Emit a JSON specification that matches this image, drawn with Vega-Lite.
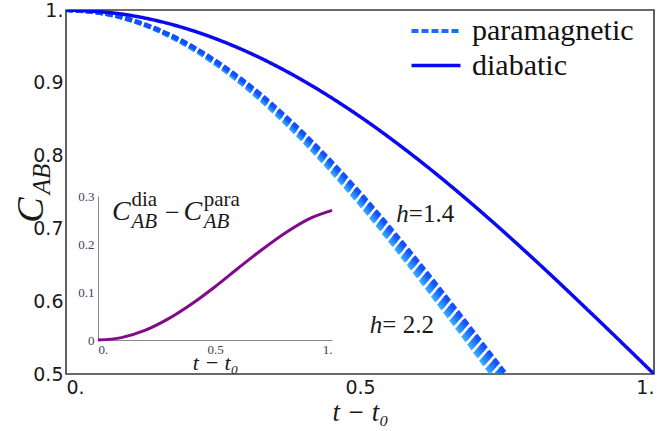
{
  "$schema": "https://vega.github.io/schema/vega-lite/v6.json",
  "width": 588,
  "height": 364,
  "autosize": {"type": "none"},
  "padding": {"left": 66, "top": 10, "right": 11, "bottom": 57},
  "background": "white",
  "config": {
    "view": {"stroke": "#3a3a3a", "strokeWidth": 1.6},
    "axis": {"grid": false, "ticks": false, "domain": false, "labelFont": "DejaVu Sans", "labelColor": "#1a1a1a", "titleFont": "Liberation Serif", "titleFontStyle": "italic", "titleFontWeight": "normal", "titleColor": "#1a1a1a"},
    "legend": {"labelFont": "Liberation Serif", "labelFontSize": 30, "labelLimit": 400, "labelColor": "#111111"},
    "text": {"font": "Liberation Serif", "color": "#1a1a1a"}
  },
  "datasets": {
    "curves": [
      {"series": "h=2.2", "type": "paramagnetic", "t": 0, "C": 1},
      {"series": "h=2.2", "type": "paramagnetic", "t": 0.0724, "C": 0.99384},
      {"series": "h=2.2", "type": "paramagnetic", "t": 0.1448, "C": 0.97553},
      {"series": "h=2.2", "type": "paramagnetic", "t": 0.2172, "C": 0.9455},
      {"series": "h=2.2", "type": "paramagnetic", "t": 0.2896, "C": 0.90451},
      {"series": "h=2.2", "type": "paramagnetic", "t": 0.362, "C": 0.85355},
      {"series": "h=2.2", "type": "paramagnetic", "t": 0.4344, "C": 0.79389},
      {"series": "h=2.2", "type": "paramagnetic", "t": 0.5068, "C": 0.727},
      {"series": "h=2.2", "type": "paramagnetic", "t": 0.5792, "C": 0.65451},
      {"series": "h=2.2", "type": "paramagnetic", "t": 0.6516, "C": 0.57822},
      {"series": "h=2.2", "type": "paramagnetic", "t": 0.724, "C": 0.5},
      {"series": "h=2.2", "type": "paramagnetic", "t": 0.7964, "C": 0.42178},
      {"series": "h=2.0", "type": "paramagnetic", "t": 0, "C": 1},
      {"series": "h=2.0", "type": "paramagnetic", "t": 0.073, "C": 0.99384},
      {"series": "h=2.0", "type": "paramagnetic", "t": 0.146, "C": 0.97553},
      {"series": "h=2.0", "type": "paramagnetic", "t": 0.219, "C": 0.9455},
      {"series": "h=2.0", "type": "paramagnetic", "t": 0.292, "C": 0.90451},
      {"series": "h=2.0", "type": "paramagnetic", "t": 0.365, "C": 0.85355},
      {"series": "h=2.0", "type": "paramagnetic", "t": 0.438, "C": 0.79389},
      {"series": "h=2.0", "type": "paramagnetic", "t": 0.511, "C": 0.727},
      {"series": "h=2.0", "type": "paramagnetic", "t": 0.584, "C": 0.65451},
      {"series": "h=2.0", "type": "paramagnetic", "t": 0.657, "C": 0.57822},
      {"series": "h=2.0", "type": "paramagnetic", "t": 0.73, "C": 0.5},
      {"series": "h=2.0", "type": "paramagnetic", "t": 0.803, "C": 0.42178},
      {"series": "h=1.8", "type": "paramagnetic", "t": 0, "C": 1},
      {"series": "h=1.8", "type": "paramagnetic", "t": 0.0736, "C": 0.99384},
      {"series": "h=1.8", "type": "paramagnetic", "t": 0.1472, "C": 0.97553},
      {"series": "h=1.8", "type": "paramagnetic", "t": 0.2208, "C": 0.9455},
      {"series": "h=1.8", "type": "paramagnetic", "t": 0.2944, "C": 0.90451},
      {"series": "h=1.8", "type": "paramagnetic", "t": 0.368, "C": 0.85355},
      {"series": "h=1.8", "type": "paramagnetic", "t": 0.4416, "C": 0.79389},
      {"series": "h=1.8", "type": "paramagnetic", "t": 0.5152, "C": 0.727},
      {"series": "h=1.8", "type": "paramagnetic", "t": 0.5888, "C": 0.65451},
      {"series": "h=1.8", "type": "paramagnetic", "t": 0.6624, "C": 0.57822},
      {"series": "h=1.8", "type": "paramagnetic", "t": 0.736, "C": 0.5},
      {"series": "h=1.8", "type": "paramagnetic", "t": 0.8096, "C": 0.42178},
      {"series": "h=1.6", "type": "paramagnetic", "t": 0, "C": 1},
      {"series": "h=1.6", "type": "paramagnetic", "t": 0.0742, "C": 0.99384},
      {"series": "h=1.6", "type": "paramagnetic", "t": 0.1484, "C": 0.97553},
      {"series": "h=1.6", "type": "paramagnetic", "t": 0.2226, "C": 0.9455},
      {"series": "h=1.6", "type": "paramagnetic", "t": 0.2968, "C": 0.90451},
      {"series": "h=1.6", "type": "paramagnetic", "t": 0.371, "C": 0.85355},
      {"series": "h=1.6", "type": "paramagnetic", "t": 0.4452, "C": 0.79389},
      {"series": "h=1.6", "type": "paramagnetic", "t": 0.5194, "C": 0.727},
      {"series": "h=1.6", "type": "paramagnetic", "t": 0.5936, "C": 0.65451},
      {"series": "h=1.6", "type": "paramagnetic", "t": 0.6678, "C": 0.57822},
      {"series": "h=1.6", "type": "paramagnetic", "t": 0.742, "C": 0.5},
      {"series": "h=1.6", "type": "paramagnetic", "t": 0.8162, "C": 0.42178},
      {"series": "h=1.4", "type": "paramagnetic", "t": 0, "C": 1},
      {"series": "h=1.4", "type": "paramagnetic", "t": 0.0748, "C": 0.99384},
      {"series": "h=1.4", "type": "paramagnetic", "t": 0.1496, "C": 0.97553},
      {"series": "h=1.4", "type": "paramagnetic", "t": 0.2244, "C": 0.9455},
      {"series": "h=1.4", "type": "paramagnetic", "t": 0.2992, "C": 0.90451},
      {"series": "h=1.4", "type": "paramagnetic", "t": 0.374, "C": 0.85355},
      {"series": "h=1.4", "type": "paramagnetic", "t": 0.4488, "C": 0.79389},
      {"series": "h=1.4", "type": "paramagnetic", "t": 0.5236, "C": 0.727},
      {"series": "h=1.4", "type": "paramagnetic", "t": 0.5984, "C": 0.65451},
      {"series": "h=1.4", "type": "paramagnetic", "t": 0.6732, "C": 0.57822},
      {"series": "h=1.4", "type": "paramagnetic", "t": 0.748, "C": 0.5},
      {"series": "h=1.4", "type": "paramagnetic", "t": 0.8228, "C": 0.42178},
      {"series": "diabatic", "type": "diabatic", "t": 0, "C": 1},
      {"series": "diabatic", "type": "diabatic", "t": 0.1, "C": 0.99384},
      {"series": "diabatic", "type": "diabatic", "t": 0.2, "C": 0.97553},
      {"series": "diabatic", "type": "diabatic", "t": 0.3, "C": 0.9455},
      {"series": "diabatic", "type": "diabatic", "t": 0.4, "C": 0.90451},
      {"series": "diabatic", "type": "diabatic", "t": 0.5, "C": 0.85355},
      {"series": "diabatic", "type": "diabatic", "t": 0.6, "C": 0.79389},
      {"series": "diabatic", "type": "diabatic", "t": 0.7, "C": 0.727},
      {"series": "diabatic", "type": "diabatic", "t": 0.8, "C": 0.65451},
      {"series": "diabatic", "type": "diabatic", "t": 0.9, "C": 0.57822},
      {"series": "diabatic", "type": "diabatic", "t": 1.0, "C": 0.5}
    ],
    "hLabels": [
      {"h": "h", "rest": "=1.4", "t": 0.583, "C": 0.72},
      {"h": "h", "rest": "\u2002=\u00a02.2", "t": 0.538, "C": 0.567}
    ],
    "inset": [
      {"t": 0, "v": 0},
      {"t": 0.1, "v": 0.005},
      {"t": 0.2, "v": 0.02},
      {"t": 0.3, "v": 0.044},
      {"t": 0.4, "v": 0.075},
      {"t": 0.5, "v": 0.111},
      {"t": 0.6, "v": 0.15},
      {"t": 0.7, "v": 0.188},
      {"t": 0.8, "v": 0.223},
      {"t": 0.9, "v": 0.252},
      {"t": 1.0, "v": 0.27}
    ],
    "insetC": [
      {"s": "C", "t": 0.1, "v": 0.267},
      {"s": "C", "t": 0.405, "v": 0.267}
    ],
    "insetSup": [
      {"s": "dia", "t": 0.143, "v": 0.291},
      {"s": "para", "t": 0.452, "v": 0.291}
    ],
    "insetSub": [
      {"s": "AB", "t": 0.143, "v": 0.245},
      {"s": "AB", "t": 0.452, "v": 0.245}
    ],
    "insetMinus": [
      {"s": "\u2212", "t": 0.318, "v": 0.265}
    ],
    "one": [{}]
  },
  "layer": [
    {
      "layer": [
        {
          "data": {"name": "curves"},
          "mark": {"type": "line", "clip": true, "interpolate": "monotone", "strokeCap": "butt"},
          "encoding": {
            "x": {"field": "t", "type": "quantitative", "scale": {"domain": [0, 1], "zero": false, "nice": false},
              "axis": {"orient": "bottom", "values": [0, 0.5, 1], "labelExpr": "datum.value === 0.5 ? '0.5' : format(datum.value, 'd') + '.'", "labelFont": "DejaVu Sans", "labelFontSize": 19, "labelPadding": 4, "title": "t \u2212 t\u2080", "titleFontSize": 27, "titlePadding": 2}},
            "y": {"field": "C", "type": "quantitative", "scale": {"domain": [0.5, 1], "zero": false, "nice": false},
              "axis": {"orient": "left", "values": [0.5, 0.6, 0.7, 0.8, 0.9, 1], "labelExpr": "datum.value === 1 ? '1.' : format(datum.value, '.1f')", "labelFont": "DejaVu Sans", "labelFontSize": 19, "labelPadding": 3, "title": null}},
            "color": {"field": "series", "type": "nominal", "scale": {"domain": ["h=2.2", "h=2.0", "h=1.8", "h=1.6", "h=1.4", "diabatic"], "range": ["#35a8ff", "#2b93ff", "#237eff", "#1c68ff", "#1550ff", "#0a0af0"]}, "legend": null},
            "strokeDash": {"field": "type", "type": "nominal", "scale": {"domain": ["paramagnetic", "diabatic"], "range": [[7, 3], [1, 0]]},
              "legend": {"orient": "none", "legendX": 350, "legendY": 1, "padding": 0, "title": null, "symbolType": "M-1.4,0H1.4", "symbolSize": 1225, "symbolStrokeWidth": 5, "labelFont": "Liberation Serif", "labelFontSize": 30, "labelLimit": 400, "labelColor": "#111111", "labelOffset": 16, "rowPadding": -1,
                "encode": {
                  "symbols": {"update": {"stroke": {"signal": "datum.value === 'paramagnetic' ? '#1a6cff' : '#0a0af0'"}, "strokeDash": {"signal": "datum.value === 'paramagnetic' ? [9, 4] : [1, 0]"}}}
                }}},
            "strokeWidth": {"field": "type", "type": "nominal", "scale": {"domain": ["paramagnetic", "diabatic"], "range": [4.2, 3.5]}, "legend": null}
          }
        },
        {
          "data": {"name": "hLabels"},
          "mark": {"type": "text", "align": "right", "baseline": "middle", "fontSize": 25, "fontStyle": "italic"},
          "encoding": {"x": {"field": "t", "type": "quantitative"}, "y": {"field": "C", "type": "quantitative"}, "text": {"field": "h"}}
        },
        {
          "data": {"name": "hLabels"},
          "mark": {"type": "text", "align": "left", "baseline": "middle", "fontSize": 25},
          "encoding": {"x": {"field": "t", "type": "quantitative"}, "y": {"field": "C", "type": "quantitative"}, "text": {"field": "rest"}}
        },
        {
          "data": {"name": "one"},
          "mark": {"type": "text", "angle": 270, "align": "center", "baseline": "middle", "fontSize": 38, "fontStyle": "italic"},
          "encoding": {"x": {"datum": -0.058, "type": "quantitative"}, "y": {"datum": 0.7253, "type": "quantitative"}, "text": {"value": "C"}}
        },
        {
          "data": {"name": "one"},
          "mark": {"type": "text", "angle": 270, "align": "center", "baseline": "middle", "fontSize": 25, "fontStyle": "italic"},
          "encoding": {"x": {"datum": -0.04, "type": "quantitative"}, "y": {"datum": 0.768, "type": "quantitative"}, "text": {"value": "AB"}}
        }
      ]
    },
    {
      "layer": [
        {
          "data": {"name": "inset"},
          "mark": {"type": "line", "interpolate": "monotone", "color": "#800a8a", "strokeWidth": 3},
          "encoding": {
            "x": {"field": "t", "type": "quantitative", "scale": {"domain": [0, 1], "range": [32, 266], "zero": false, "nice": false},
              "axis": {"orient": "bottom", "offset": -34, "values": [0, 0.5, 1], "labelExpr": "datum.value === 0.5 ? '0.5' : format(datum.value, 'd') + '.'", "labelFont": "Liberation Serif", "labelFontSize": 13, "labelColor": "#404050", "labelPadding": 3, "domain": true, "domainColor": "#8a8a8a", "domainWidth": 1, "title": "t \u2212 t\u2080", "titleFontSize": 22, "titlePadding": -4}},
            "y": {"field": "v", "type": "quantitative", "scale": {"domain": [0, 0.3], "range": [330, 186], "zero": false, "nice": false},
              "axis": {"orient": "left", "offset": -32, "values": [0, 0.1, 0.2, 0.3], "labelExpr": "datum.value === 0 ? '0' : format(datum.value, '.1f')", "labelFont": "Liberation Serif", "labelFontSize": 13, "labelColor": "#404050", "labelPadding": 4, "domain": true, "domainColor": "#8a8a8a", "domainWidth": 1, "title": null}}
          }
        },
        {
          "data": {"name": "insetC"},
          "mark": {"type": "text", "align": "center", "baseline": "middle", "fontSize": 28, "fontStyle": "italic"},
          "encoding": {"x": {"field": "t", "type": "quantitative"}, "y": {"field": "v", "type": "quantitative"}, "text": {"field": "s"}}
        },
        {
          "data": {"name": "insetSup"},
          "mark": {"type": "text", "align": "left", "baseline": "middle", "fontSize": 21},
          "encoding": {"x": {"field": "t", "type": "quantitative"}, "y": {"field": "v", "type": "quantitative"}, "text": {"field": "s"}}
        },
        {
          "data": {"name": "insetSub"},
          "mark": {"type": "text", "align": "left", "baseline": "middle", "fontSize": 21, "fontStyle": "italic"},
          "encoding": {"x": {"field": "t", "type": "quantitative"}, "y": {"field": "v", "type": "quantitative"}, "text": {"field": "s"}}
        },
        {
          "data": {"name": "insetMinus"},
          "mark": {"type": "text", "align": "center", "baseline": "middle", "fontSize": 26},
          "encoding": {"x": {"field": "t", "type": "quantitative"}, "y": {"field": "v", "type": "quantitative"}, "text": {"field": "s"}}
        }
      ]
    }
  ],
  "resolve": {
    "scale": {"x": "independent", "y": "independent", "color": "independent", "strokeDash": "independent", "strokeWidth": "independent"},
    "axis": {"x": "independent", "y": "independent"}
  }
}
